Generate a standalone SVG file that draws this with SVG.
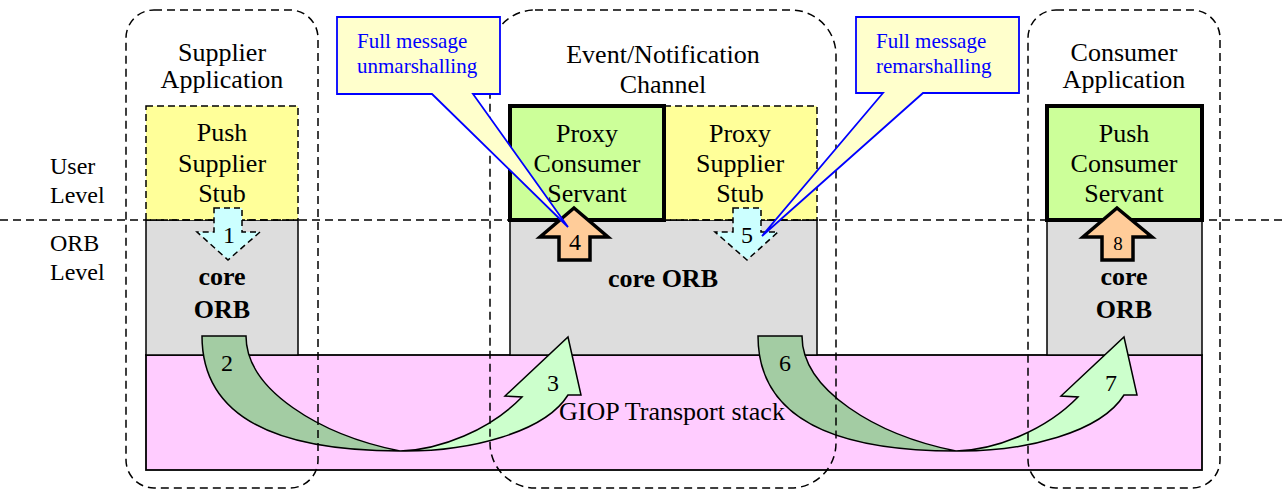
<svg xmlns="http://www.w3.org/2000/svg" width="1282" height="491" viewBox="0 0 1282 491">
<style>
text{font-family:"Liberation Serif","Times New Roman",serif;fill:#000}
.t{font-size:26px;text-anchor:middle}
.l{font-size:24px}
.b{font-size:26px;font-weight:bold;text-anchor:middle}
.n{font-size:24px;text-anchor:middle}
.c{font-size:21px;fill:#0000FF}
.gray{fill:#DDDDDD;stroke:#000;stroke-width:1.5}
.stub{fill:#FFFF99;stroke:#000;stroke-width:1.5;stroke-dasharray:7 4}
.serv{fill:#CCFF99;stroke:#000;stroke-width:4}
.down{fill:#CCFFFF;stroke:#000;stroke-width:1.5;stroke-dasharray:6 4}
.up{fill:#FFCC99;stroke:#000;stroke-width:3.5;stroke-linejoin:miter}
.dk{fill:#A3CCA3;stroke:#000;stroke-width:1.5}
.lt{fill:#CCFFCC;stroke:#000;stroke-width:1.5}
.grp{fill:none;stroke:#000;stroke-width:1.5;stroke-dasharray:8 5}
.call{fill:#FFFFCC;stroke:#0000FF;stroke-width:1.8}
</style>
<defs>
<g id="curve">
<path class="dk" d="M202,336 L246,336 C246,390 320,435 400,451 C280,451 202,420 202,336 Z"/>
<path class="lt" d="M400,451 C440,450 490,430 522,397 L505,396 L568,337 L581,395 L568,395 C545,432 470,452 400,451 Z"/>
</g>
</defs>

<g id="giop">
<rect x="146" y="355" width="1056" height="115" fill="#FFCCFF" stroke="#000" stroke-width="1.8"/>
</g>
<g id="orb-supplier"><rect class="gray" x="146" y="220" width="152" height="135"/></g>
<g id="orb-channel"><rect class="gray" x="510" y="220" width="307" height="135"/></g>
<g id="orb-consumer"><rect class="gray" x="1047" y="220" width="155" height="135"/></g>

<g id="push-supplier-stub"><rect class="stub" x="146" y="106" width="152" height="114"/></g>
<g id="proxy-supplier-stub"><rect class="stub" x="664" y="106" width="153" height="114"/></g>
<g id="proxy-consumer-servant"><rect class="serv" x="510" y="106" width="154" height="114"/></g>
<g id="push-consumer-servant"><rect class="serv" x="1047" y="106" width="155" height="114"/></g>

<line x1="0" y1="220" x2="1282" y2="220" stroke="#000" stroke-width="1.5" stroke-dasharray="8 5"/>

<g id="connectors">
<path id="arrow1" class="down" d="M214,208 H242 V232 H260 L228,260 L197,232 H214 Z"/>
<path id="arrow5" class="down" d="M733,208 H761 V232 H778 L747,260 L715,232 H733 Z"/>
<path id="arrow4" class="up" d="M574,208 L608,237 H590 V260 H559 V237 H540 Z"/>
<path id="arrow8" class="up" d="M1117,208 L1152,237 H1133 V260 H1102 V237 H1083 Z"/>
<use id="arrow2-3" href="#curve"/>
<use id="arrow6-7" href="#curve" transform="translate(556,0)"/>
</g>

<g id="labels">
<text class="l" x="50" y="174">User</text>
<text class="l" x="50" y="203">Level</text>
<text class="l" x="50" y="251">ORB</text>
<text class="l" x="50" y="280">Level</text>

<text class="t" x="222" y="61">Supplier</text>
<text class="t" x="222" y="88">Application</text>
<text class="t" x="663" y="63">Event/Notification</text>
<text class="t" x="663" y="93">Channel</text>
<text class="t" x="1124" y="61">Consumer</text>
<text class="t" x="1124" y="88">Application</text>

<text class="t" x="222" y="141">Push</text>
<text class="t" x="222" y="172">Supplier</text>
<text class="t" x="222" y="202">Stub</text>
<text class="t" x="587" y="142">Proxy</text>
<text class="t" x="587" y="172">Consumer</text>
<text class="t" x="587" y="202">Servant</text>
<text class="t" x="740" y="142">Proxy</text>
<text class="t" x="740" y="172">Supplier</text>
<text class="t" x="740" y="202">Stub</text>
<text class="t" x="1124" y="142">Push</text>
<text class="t" x="1124" y="172">Consumer</text>
<text class="t" x="1124" y="202">Servant</text>

<text class="b" x="222" y="285">core</text>
<text class="b" x="222" y="318">ORB</text>
<text class="b" x="663" y="287">core ORB</text>
<text class="b" x="1124" y="285">core</text>
<text class="b" x="1124" y="318">ORB</text>

<text class="t" x="672" y="420">GIOP Transport stack</text>

<text class="n" x="229" y="243">1</text>
<text class="n" x="227" y="371">2</text>
<text class="n" x="553" y="391">3</text>
<text class="n" x="575" y="250">4</text>
<text class="n" x="747" y="243">5</text>
<text class="n" x="785" y="371">6</text>
<text class="n" x="1111" y="391">7</text>
<text class="n" x="1118" y="250" style="font-size:19px">8</text>
</g>

<g id="supplier-application"><rect class="grp" x="126" y="10" width="192" height="478" rx="28"/></g>
<g id="event-channel"><rect class="grp" x="490" y="10" width="346" height="478" rx="45"/></g>
<g id="consumer-application"><rect class="grp" x="1028" y="10" width="192" height="478" rx="28"/></g>

<g id="callout-unmarshalling">
<path class="call" d="M337,17 H500 V94 H473 L568,227 L432,94 H337 Z"/>
<text class="c" x="357" y="48">Full message</text>
<text class="c" x="357" y="73">unmarshalling</text>
</g>
<g id="callout-remarshalling">
<path class="call" d="M856,17 H1019 V93 H923 L762,236 L883,93 H856 Z"/>
<text class="c" x="876" y="48">Full message</text>
<text class="c" x="876" y="73">remarshalling</text>
</g>
</svg>
